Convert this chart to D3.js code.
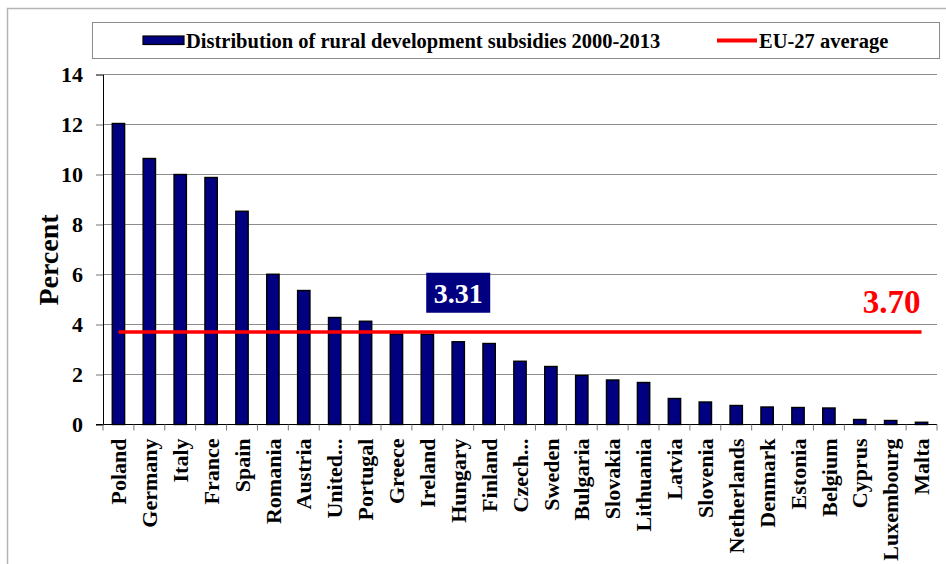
<!DOCTYPE html>
<html><head><meta charset="utf-8">
<script src="https://cdn.jsdelivr.net/npm/d3@7/dist/d3.min.js"></script>
<style>
html,body{margin:0;padding:0;background:#fff;}
svg text{font-family:"Liberation Serif","Times New Roman",Tinos,"DejaVu Serif",serif !important;font-weight:bold;}
</style></head>
<body><svg id="c" width="946" height="564"></svg>
<script>
const countries = ["Poland","Germany","Italy","France","Spain","Romania","Austria","United...","Portugal","Greece","Ireland","Hungary","Finland","Czech...","Sweden","Bulgaria","Slovakia","Lithuania","Latvia","Slovenia","Netherlands","Denmark","Estonia","Belgium","Cyprus","Luxembourg","Malta"];
const shares = [12.04,10.64,10.00,9.88,8.53,6.01,5.36,4.28,4.13,3.62,3.61,3.31,3.24,2.53,2.32,1.96,1.78,1.68,1.04,0.90,0.76,0.70,0.68,0.66,0.20,0.16,0.09];
const euAverage = 3.70;
const highlighted = "Hungary";
const yTicks = [0,2,4,6,8,10,12,14];
const seriesName = "Distribution of rural development subsidies 2000-2013";
const avgName = "EU-27 average";

const svg = d3.select("#c");
const L = 103, R = 937, T = 74.5, B = 424.5;

// outer frame
svg.append("rect").attr("x",7.5).attr("y",8.5).attr("width",960).attr("height",600)
  .attr("fill","none").attr("stroke","#b4b4b4").attr("stroke-width",1.5);

const x = d3.scaleBand().domain(countries).range([L,R]).paddingInner(0.6).paddingOuter(0.3);
const y = d3.scaleLinear().domain([0,14]).range([B,T]);
const step = x.step();
const cx = d => x(d) + x.bandwidth()/2;

// gridlines
svg.append("g").selectAll("line").data(yTicks.filter(t=>t>0)).join("line")
  .attr("x1",L).attr("x2",R).attr("y1",d=>y(d)).attr("y2",d=>y(d))
  .attr("stroke","#8c8c8c").attr("stroke-width",1);

// y axis
const ya = svg.append("g").attr("transform",`translate(${L},0)`)
  .call(d3.axisLeft(y).tickValues(yTicks).tickSize(7).tickPadding(13).tickFormat(d3.format("d")));
ya.attr("font-family",null);
ya.select(".domain").attr("stroke","#000");
ya.selectAll(".tick line").attr("stroke","#777");
ya.selectAll(".tick text").attr("font-size",22).attr("fill","#000").attr("dy","0.34em");

// bars
svg.append("g").selectAll("rect").data(countries).join("rect")
  .attr("x",d=>x(d)).attr("width",x.bandwidth())
  .attr("y",(d,i)=>y(shares[i])).attr("height",(d,i)=>y(0)-y(shares[i]))
  .attr("fill","#000080").attr("stroke","#000").attr("stroke-width",1.4);

// x axis line and boundary ticks
svg.append("line").attr("x1",L-7).attr("x2",R).attr("y1",B).attr("y2",B).attr("stroke","#000").attr("stroke-width",1.2);
const bounds = d3.range(countries.length+1).map(i=>L+i*step);
svg.append("g").selectAll("line").data(bounds).join("line")
  .attr("x1",d=>d).attr("x2",d=>d).attr("y1",B).attr("y2",B+6).attr("stroke","#777");

// x labels
svg.append("g").selectAll("text").data(countries).join("text")
  .attr("transform",d=>`translate(${cx(d)},${B+14}) rotate(-90)`)
  .attr("text-anchor","end").attr("dy","0.35em")
  .attr("font-size",22).attr("fill","#000").text(d=>d);

// average line
const first = countries[0], last = countries[countries.length-1];
svg.append("line").attr("x1",cx(first)).attr("x2",cx(last)).attr("y1",y(euAverage)).attr("y2",y(euAverage))
  .attr("stroke","#ff0000").attr("stroke-width",3.5);
svg.append("text").attr("x",cx(last)-1).attr("y",y(euAverage)-19)
  .attr("text-anchor","end").attr("font-size",33).attr("fill","#ff0000").text(euAverage.toFixed(2));

// highlighted label
const hi = countries.indexOf(highlighted);
const hx = cx(highlighted), hy = y(shares[hi]);
svg.append("rect").attr("x",hx-32).attr("y",hy-69).attr("width",64).attr("height",40).attr("fill","#000080");
svg.append("text").attr("x",hx).attr("y",hy-39).attr("text-anchor","middle")
  .attr("font-size",28).attr("fill","#fff").text(shares[hi].toFixed(2));

// y title
svg.append("text").attr("transform","translate(48,260) rotate(-90)").attr("text-anchor","middle")
  .attr("dy","0.35em").attr("font-size",28).attr("fill","#000").text("Percent");

// legend
const lg = svg.append("g");
lg.append("rect").attr("x",92.5).attr("y",22.5).attr("width",847).attr("height",36)
  .attr("fill","#fff").attr("stroke","#8c8c8c").attr("stroke-width",1);
lg.append("rect").attr("x",143).attr("y",36).attr("width",41).attr("height",8.5)
  .attr("fill","#000080").attr("stroke","#000").attr("stroke-width",1.2);
lg.append("text").attr("x",186).attr("y",47.5).attr("font-size",20.5).attr("fill","#000").text(seriesName);
lg.append("line").attr("x1",717).attr("x2",757).attr("y1",40.5).attr("y2",40.5)
  .attr("stroke","#ff0000").attr("stroke-width",4);
lg.append("text").attr("x",759).attr("y",47.5).attr("font-size",20.5).attr("fill","#000").text(avgName);
</script></body></html>
